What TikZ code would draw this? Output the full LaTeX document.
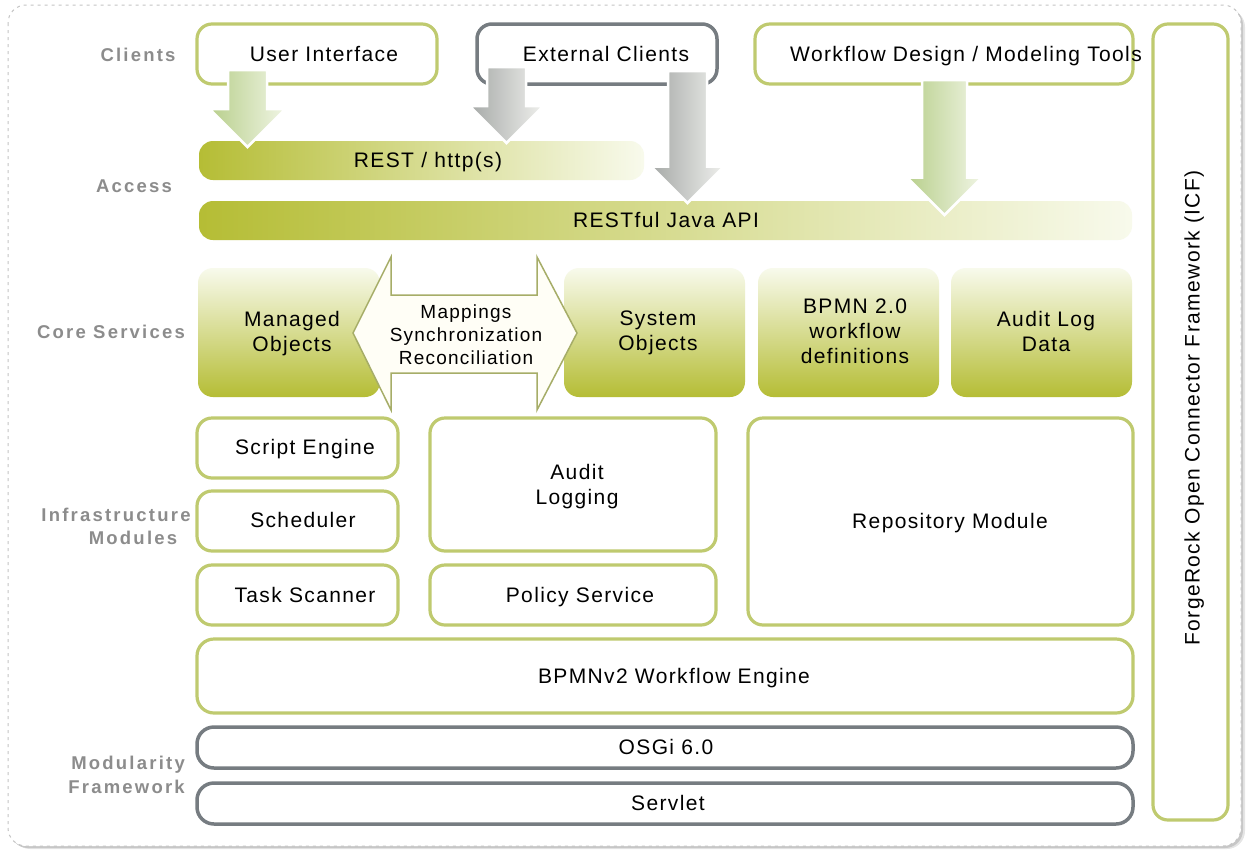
\documentclass[tikz,border=0pt]{standalone}
\usepackage{fontspec}
\setmainfont{Liberation Sans}[LetterSpace=6.5]
\newfontfamily\labfont{Liberation Sans}[LetterSpace=12]
\definecolor{gborder}{HTML}{BFCA6F}
\definecolor{gyborder}{HTML}{767C81}
\definecolor{olv}{HTML}{B5BD35}
\definecolor{olvlight}{HTML}{F8FAEC}
\definecolor{lblgray}{HTML}{8C8C8C}
\definecolor{arrgreen}{HTML}{B8CF8C}
\definecolor{arrgreenlight}{HTML}{F0F5E4}
\definecolor{arrgray}{HTML}{A6A9A7}
\definecolor{arrgraylight}{HTML}{EFF0ED}
\definecolor{framegray}{HTML}{C4C4C4}
\definecolor{syncfill}{HTML}{FFFEF6}
\definecolor{syncborder}{HTML}{A6AD68}
\newcommand\dnarrow[6]{\path[#1] ({#2-#5},#3) -- ({#2+#5},#3) -- ({#2+#5},{#4-#6}) -- ({#2+#6},{#4-#6}) -- (#2,#4) -- ({#2-#6},{#4-#6}) -- ({#2-#5},{#4-#6}) -- cycle;}
\begin{document}
\begin{tikzpicture}[x=1pt,y=-1pt,
  gbox/.style={draw=gborder, line width=3.2pt, rounded corners=15pt, fill=white, inner sep=0pt},
  gybox/.style={draw=gyborder, line width=3.5pt, rounded corners=17pt, fill=white, inner sep=0pt},
  core/.style={rounded corners=15pt, top color=olvlight, bottom color=olv, inner sep=0pt},
  bar/.style={rounded corners=14pt, left color=olv, right color=olvlight, inner sep=0pt},
  txt/.style={font=\fontsize{21}{25}\selectfont, align=center, text=black, inner sep=0pt, text depth=0pt},
  stxt/.style={font=\fontsize{19}{23}\selectfont, align=center, text=black, inner sep=0pt},
  lbl/.style={font=\labfont\bfseries\fontsize{18.5}{24}\selectfont, text=lblgray, align=right, inner sep=0pt},
  garrow/.style={left color=arrgreen, right color=arrgreenlight, draw=white, line width=2.5pt},
  yarrow/.style={left color=arrgray, right color=arrgraylight, draw=white, line width=2.5pt},
]
\useasboundingbox (0,0) rectangle (1250,849);
% outer frame
\fill[black!10, rounded corners=18pt] (12,9) rectangle (1245,849);
\fill[black!22, rounded corners=18pt] (10,7) rectangle (1243,848);
\fill[white, rounded corners=18pt] (8,5) rectangle (1241,846);
\draw[framegray, dash pattern=on 3pt off 4pt, line width=1pt, rounded corners=18pt] (8,5) rectangle (1241,846);

% left labels
\node[lbl] (lclients) at (138,55) {Clients};
\node[lbl] (laccess) at (134,186) {Access};
\node[lbl] (lcore) at (111,332) {Core Services};
\node[lbl] (linfraA) at (116,515) {Infrastructure};
\node[lbl] (linfraB) at (133,538) {Modules};
\node[lbl, anchor=east] (lmod) at (185,775) {Modularity\\Framework};

% clients
\node[gbox, minimum width=240pt, minimum height=60pt] (ui) at (317,54) {};
\node[txt] (uit) at (324,54) {User Interface};
\node[gybox, rounded corners=15pt, minimum width=240pt, minimum height=60pt] (ext) at (597,54) {};
\node[txt] (extt) at (606,54) {External Clients};
\node[gbox, minimum width=378pt, minimum height=60pt] (wf) at (944,54) {};
\node[txt] (wft) at (966,54) {Workflow Design / Modeling Tools};

% ICF
\node[gbox, minimum width=75pt, minimum height=796pt] (icf) at (1190.5,422) {};
\node[txt, rotate=90] (icft) at (1192,408) {ForgeRock Open Connector Framework (ICF)};

% access bars
\node[bar, minimum width=445pt, minimum height=39pt] (rest) at (421.5,160.5) {};
\node[txt] (restt) at (428,160) {REST / http(s)};
\node[bar, minimum width=933pt, minimum height=39pt] (java) at (665.5,220.5) {};
\node[txt] (javat) at (666,220) {RESTful Java API};

% arrows
\dnarrow{garrow}{247.5}{70}{147}{19.5}{38}
\dnarrow{yarrow}{506.5}{67}{143}{19.5}{37}
\dnarrow{yarrow}{687.5}{71}{203}{19.5}{36.5}
\dnarrow{garrow}{944.5}{80}{215}{22.5}{37.5}

% core services
\node[core, minimum width=182pt, minimum height=129pt] (mo) at (289,332.5) {};
\node[txt] (mot) at (292,331) {Managed\\Objects};
\node[core, minimum width=181pt, minimum height=129pt] (so) at (654.5,332.5) {};
\node[txt] (sot) at (658,331) {System\\Objects};
\node[core, minimum width=181pt, minimum height=129pt] (bp) at (848.5,332.5) {};
\node[txt] (bpt) at (855,331) {BPMN 2.0\\workflow\\definitions};
\node[core, minimum width=181pt, minimum height=129pt] (al) at (1041.5,332.5) {};
\node[txt] (alt) at (1046,331) {Audit Log\\Data};

% sync double arrow
\path[fill=syncfill, draw=syncborder, line width=1.5pt, line join=miter]
  (353,333) -- (391,257) -- (391,295) -- (537,295) -- (537,257) -- (577,333)
  -- (537,410) -- (537,373) -- (391,373) -- (391,410) -- cycle;
\node[stxt] (sync) at (466,335) {Mappings\\Synchronization\\Reconciliation};

% infrastructure
\node[gbox, minimum width=201pt, minimum height=60pt] (se) at (297.5,448) {};
\node[txt] (set) at (305,447) {Script Engine};
\node[gbox, minimum width=201pt, minimum height=60pt] (sc) at (297.5,521) {};
\node[txt] (sct) at (303,520) {Scheduler};
\node[gbox, minimum width=201pt, minimum height=60pt] (ts) at (297.5,595) {};
\node[txt] (tst) at (305,595) {Task Scanner};
\node[gbox, minimum width=286pt, minimum height=133pt] (alog) at (573,484.5) {};
\node[txt] (alogt) at (577,484) {Audit\\Logging};
\node[gbox, minimum width=286pt, minimum height=60pt] (ps) at (573,595) {};
\node[txt] (pst) at (580,595) {Policy Service};
\node[gbox, minimum width=385pt, minimum height=207pt] (repo) at (940.5,521.5) {};
\node[txt] (repot) at (950,521) {Repository Module};

% workflow engine & modularity
\node[gbox, rounded corners=17pt, minimum width=936pt, minimum height=74pt] (bpe) at (665,676) {};
\node[txt] (bpet) at (674,676) {BPMNv2 Workflow Engine};
\node[gybox, minimum width=936pt, minimum height=41pt] (osgi) at (665,747.5) {};
\node[txt] (osgit) at (666,747) {OSGi 6.0};
\node[gybox, minimum width=936pt, minimum height=41pt] (srv) at (665,803.5) {};
\node[txt] (srvt) at (668,803) {Servlet};
\end{tikzpicture}
\end{document}
